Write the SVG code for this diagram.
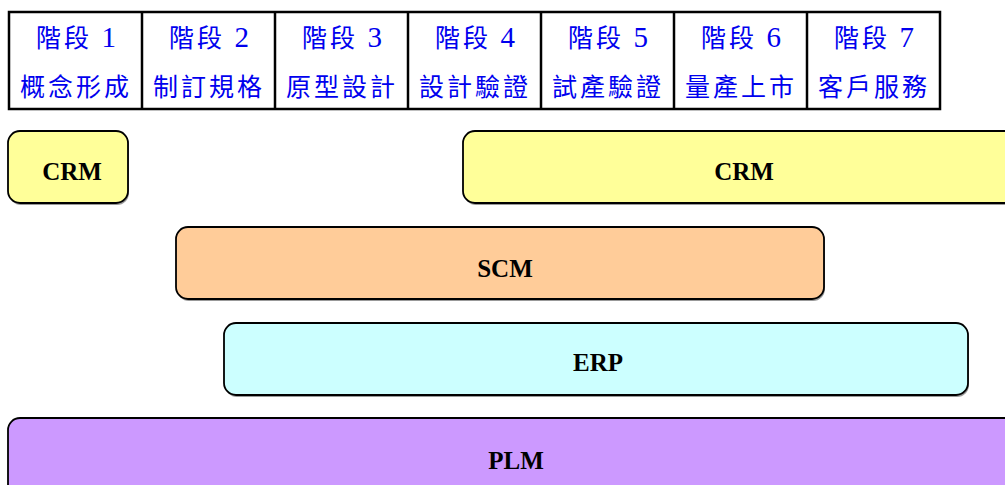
<svg xmlns="http://www.w3.org/2000/svg" width="1005" height="485" viewBox="0 0 1005 485">
<style>
.cell{fill:#fff;stroke:#000;stroke-width:2.5}
.hd{font-family:"Liberation Serif","Noto Sans CJK TC",serif;font-size:25px;fill:#0000ee;text-anchor:middle;letter-spacing:3px}
.num{font-size:29px;letter-spacing:0}
.box{stroke:#000;stroke-width:1.8}
.sh{fill:#999}
.lbl{font-family:"Liberation Serif",serif;font-weight:bold;font-size:25px;fill:#000;text-anchor:middle}
</style>
<g id="table">
<rect class="cell" x="9" y="12" width="931" height="97"/>
<line x1="142" y1="12" x2="142" y2="109" stroke="#000" stroke-width="2.5"/>
<line x1="275" y1="12" x2="275" y2="109" stroke="#000" stroke-width="2.5"/>
<line x1="408" y1="12" x2="408" y2="109" stroke="#000" stroke-width="2.5"/>
<line x1="541" y1="12" x2="541" y2="109" stroke="#000" stroke-width="2.5"/>
<line x1="674" y1="12" x2="674" y2="109" stroke="#000" stroke-width="2.5"/>
<line x1="807" y1="12" x2="807" y2="109" stroke="#000" stroke-width="2.5"/>
</g>
<g id="stage1"><text class="hd" x="76" y="47">階段 <tspan class="num">1</tspan></text><text class="hd" x="76" y="96">概念形成</text></g>
<g id="stage2"><text class="hd" x="209" y="47">階段 <tspan class="num">2</tspan></text><text class="hd" x="209" y="96">制訂規格</text></g>
<g id="stage3"><text class="hd" x="342" y="47">階段 <tspan class="num">3</tspan></text><text class="hd" x="342" y="96">原型設計</text></g>
<g id="stage4"><text class="hd" x="475" y="47">階段 <tspan class="num">4</tspan></text><text class="hd" x="475" y="96">設計驗證</text></g>
<g id="stage5"><text class="hd" x="608" y="47">階段 <tspan class="num">5</tspan></text><text class="hd" x="608" y="96">試產驗證</text></g>
<g id="stage6"><text class="hd" x="741" y="47">階段 <tspan class="num">6</tspan></text><text class="hd" x="741" y="96">量產上市</text></g>
<g id="stage7"><text class="hd" x="874" y="47">階段 <tspan class="num">7</tspan></text><text class="hd" x="874" y="96">客戶服務</text></g>

<g id="crm1">
<rect class="sh" x="9" y="133" width="120" height="72" rx="12"/>
<rect class="box" x="8" y="131" width="120" height="72" rx="12" fill="#ffff99"/>
<text class="lbl" x="72" y="180">CRM</text>
</g>
<g id="crm2">
<rect class="sh" x="464" y="133" width="562" height="72" rx="12"/>
<rect class="box" x="463" y="131" width="562" height="72" rx="12" fill="#ffff99"/>
<text class="lbl" x="744" y="180">CRM</text>
</g>
<g id="scm">
<rect class="sh" x="177" y="229" width="648" height="72" rx="12"/>
<rect class="box" x="176" y="227" width="648" height="72" rx="12" fill="#ffcc99"/>
<text class="lbl" x="505" y="277">SCM</text>
</g>
<g id="erp">
<rect class="sh" x="225" y="325" width="744" height="72" rx="12"/>
<rect class="box" x="224" y="323" width="744" height="72" rx="12" fill="#ccffff"/>
<text class="lbl" x="598" y="371">ERP</text>
</g>
<g id="plm">
<rect class="box" x="8" y="418" width="1014" height="80" rx="12" fill="#cc99ff"/>
<text class="lbl" x="516" y="469">PLM</text>
</g>
<g id="connectors"></g>
</svg>
